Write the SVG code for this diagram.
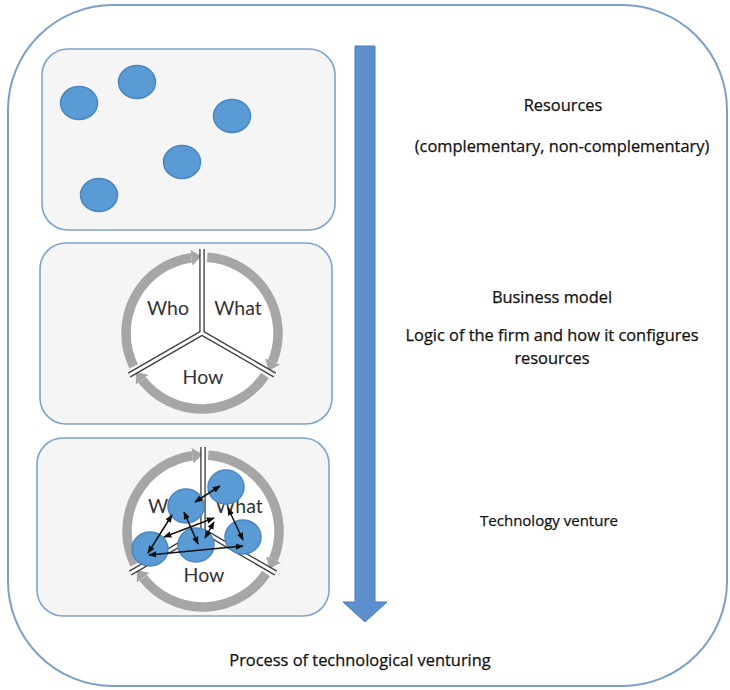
<svg xmlns="http://www.w3.org/2000/svg" width="730" height="690" viewBox="0 0 730 690">
  <style>
    .frame { fill: #ffffff; stroke: #7c9fc9; stroke-width: 2; }
    .panel { fill: #f5f5f5; stroke: #7ea3cc; stroke-width: 1.6; }
    .res { fill: #5b9bd5; stroke: #4a86c0; stroke-width: 1.5; }
    .disk { fill: #ffffff; }
    .ring { fill: none; stroke: #a6a6a6; stroke-width: 9.5; stroke-linecap: butt; }
    .divA { stroke: #404040; stroke-width: 5.5; stroke-linecap: butt; }
    .divB { stroke: #ffffff; stroke-width: 2.8; stroke-linecap: butt; }
    .seg { font-family: Lato, "Open Sans", sans-serif; font-size: 19.5px; fill: #333333; text-anchor: middle; }
    .lbl { font-family: "Open Sans", Lato, sans-serif; font-size: 16.4px; fill: #111111; stroke: #111111; stroke-width: 0.25; text-anchor: middle; }
    .lbl.small { font-size: 15px; }
    .link { stroke: #111111; stroke-width: 1.5; fill: none; }
  </style>
  <defs>
    <marker id="cyc" viewBox="0 0 10 16" refX="0" refY="8" markerWidth="10" markerHeight="16" markerUnits="userSpaceOnUse" orient="auto">
      <path d="M0,0 L10,8 L0,16 Z" fill="#a6a6a6"/>
    </marker>
    <marker id="tip" viewBox="0 0 10 8" refX="9" refY="4" markerWidth="8" markerHeight="7" markerUnits="userSpaceOnUse" orient="auto-start-reverse">
      <path d="M0,0 L10,4 L0,8 Z" fill="#111111"/>
    </marker>
    <!-- business-model wheel: ring of three cycle arrows and a split into Who / What / How -->
    <g id="wheel">
      <circle class="disk" cx="0" cy="0" r="72"/>
      <path class="ring" d="M5.3,-75.8 A76,76 0 0 1 70.5,28.5" marker-end="url(#cyc)"/>
      <path class="ring" d="M63,42.5 A76,76 0 0 1 -59.9,46.8" marker-end="url(#cyc)"/>
      <path class="ring" d="M-68.3,33.3 A76,76 0 0 1 -10.6,-75.3" marker-end="url(#cyc)"/>
      <line class="divA" x1="0" y1="0" x2="0" y2="-84"/>
      <line class="divA" x1="0" y1="0" x2="72.7" y2="42"/>
      <line class="divA" x1="0" y1="0" x2="-72.7" y2="42"/>
      <line class="divB" x1="0" y1="0" x2="0" y2="-84"/>
      <line class="divB" x1="0" y1="0" x2="72.7" y2="42"/>
      <line class="divB" x1="0" y1="0" x2="-72.7" y2="42"/>
      <text class="seg" x="-34" y="-18">Who</text>
      <text class="seg" x="36" y="-18">What</text>
      <text class="seg" x="1" y="51">How</text>
    </g>
  </defs>

  <!-- outer frame -->
  <rect class="frame" x="8" y="5" width="719" height="681" rx="105" ry="105"/>

  <!-- panel 1: loose resources -->
  <g id="resources-panel">
    <rect class="panel" x="42" y="49" width="293" height="181" rx="26"/>
    <ellipse class="res" cx="79" cy="103" rx="18.5" ry="16.5"/>
    <ellipse class="res" cx="137" cy="82" rx="18.5" ry="16.5"/>
    <ellipse class="res" cx="232" cy="116" rx="18.5" ry="16.5"/>
    <ellipse class="res" cx="182" cy="162" rx="18.5" ry="16.5"/>
    <ellipse class="res" cx="99" cy="195" rx="18.5" ry="16.5"/>
  </g>

  <!-- panel 2: business model wheel -->
  <g id="business-model-panel">
    <rect class="panel" x="40" y="243" width="292" height="181" rx="26"/>
    <use href="#wheel" x="202" y="333"/>
  </g>

  <!-- panel 3: resources configured within the wheel -->
  <g id="venture-panel">
    <rect class="panel" x="37" y="438" width="292" height="178" rx="26"/>
    <use href="#wheel" x="203" y="531"/>
    <ellipse class="res" cx="226" cy="487" rx="18" ry="17"/>
    <ellipse class="res" cx="186" cy="506" rx="18" ry="17"/>
    <ellipse class="res" cx="196" cy="545" rx="18" ry="17"/>
    <ellipse class="res" cx="243" cy="537" rx="18" ry="17"/>
    <ellipse class="res" cx="150" cy="549" rx="18" ry="17"/>
  </g>

  <!-- links between configured resources -->
  <g id="connectors">
    <line class="link" x1="195" y1="502" x2="220" y2="486" marker-start="url(#tip)" marker-end="url(#tip)"/>
    <line class="link" x1="184" y1="512" x2="198" y2="544" marker-start="url(#tip)" marker-end="url(#tip)"/>
    <line class="link" x1="148" y1="553" x2="172" y2="515" marker-start="url(#tip)" marker-end="url(#tip)"/>
    <line class="link" x1="149" y1="555" x2="243" y2="546" marker-start="url(#tip)" marker-end="url(#tip)"/>
    <line class="link" x1="228" y1="508" x2="243" y2="540" marker-start="url(#tip)" marker-end="url(#tip)"/>
    <line class="link" x1="164" y1="537" x2="214" y2="518" marker-start="url(#tip)" marker-end="url(#tip)"/>
    <line class="link" x1="205" y1="538" x2="214" y2="522" marker-start="url(#tip)" marker-end="url(#tip)"/>
  </g>

  <!-- process arrow -->
  <g id="process-arrow">
    <path d="M355,46 L375,46 L375,602 L387,602 L365,622 L343,602 L355,602 Z" fill="#5b8fcd" stroke="#4a7dbb" stroke-width="1"/>
  </g>

  <!-- stage labels -->
  <g id="labels">
    <text class="lbl" x="563" y="111">Resources</text>
    <text class="lbl" x="562" y="152">(complementary, non-complementary)</text>
    <text class="lbl" x="552" y="303">Business model</text>
    <text class="lbl" x="552" y="341">Logic of the firm and how it configures</text>
    <text class="lbl" x="552" y="364">resources</text>
    <text class="lbl small" x="549" y="526">Technology venture</text>
    <text class="lbl" x="360" y="666">Process of technological venturing</text>
  </g>
</svg>
